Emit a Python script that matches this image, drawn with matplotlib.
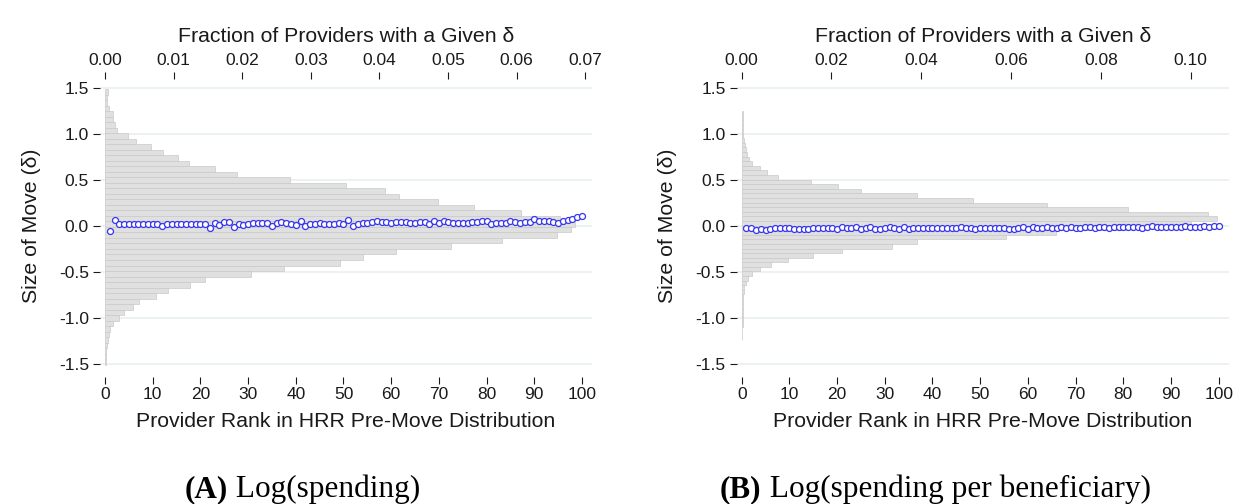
import numpy as np
import matplotlib
matplotlib.use("Agg")
import matplotlib.pyplot as plt

plt.rcParams['font.family'] = ['Liberation Sans', 'DejaVu Sans']

# ---- data ----
ranks = np.arange(1, 101)

# panel A: mean size of move by provider rank
move_a = [
    -0.05, 0.06, 0.018, 0.018, 0.018, 0.018, 0.018, 0.018, 0.018, 0.018,
    0.018, -0.004, 0.018, 0.018, 0.018, 0.018, 0.018, 0.018, 0.018, 0.025,
    0.025, -0.018, 0.032, 0.011, 0.04, 0.04, -0.011, 0.018, 0.011, 0.018,
    0.036, 0.029, 0.029, 0.036, 0.004, 0.029, 0.04, 0.029, 0.025, 0.011,
    0.054, 0.0, 0.022, 0.025, 0.033, 0.025, 0.022, 0.025, 0.029, 0.018,
    0.062, 0.004, 0.018, 0.029, 0.029, 0.047, 0.054, 0.047, 0.04, 0.029,
    0.047, 0.047, 0.04, 0.029, 0.029, 0.04, 0.047, 0.018, 0.054, 0.029,
    0.054, 0.04, 0.029, 0.029, 0.036, 0.029, 0.044, 0.047, 0.058, 0.051,
    0.022, 0.029, 0.036, 0.036, 0.054, 0.044, 0.036, 0.044, 0.047, 0.073,
    0.054, 0.051, 0.051, 0.044, 0.036, 0.058, 0.065, 0.073, 0.094, 0.113,
]

# panel B
move_b = [
    -0.02, -0.025, -0.04, -0.036, -0.04, -0.029, -0.025, -0.025, -0.025, -0.025,
    -0.029, -0.029, -0.029, -0.029, -0.022, -0.022, -0.025, -0.025, -0.025, -0.029,
    -0.007, -0.022, -0.022, -0.011, -0.029, -0.018, -0.015, -0.036, -0.029, -0.022,
    -0.007, -0.018, -0.029, -0.015, -0.029, -0.018, -0.022, -0.025, -0.025, -0.025,
    -0.025, -0.025, -0.025, -0.018, -0.025, -0.011, -0.022, -0.018, -0.036, -0.025,
    -0.018, -0.025, -0.022, -0.025, -0.025, -0.029, -0.029, -0.018, -0.015, -0.029,
    -0.007, -0.018, -0.022, -0.015, -0.018, -0.022, -0.011, -0.018, -0.015, -0.018,
    -0.022, -0.015, -0.011, -0.018, -0.015, -0.011, -0.018, -0.015, -0.011, -0.015,
    -0.007, -0.015, -0.011, -0.018, -0.011, -0.004, -0.011, -0.015, -0.007, -0.011,
    -0.007, -0.011, -0.004, -0.011, -0.007, -0.011, -0.004, -0.007, -0.004, 0.0,
]

# histogram of delta (fraction of providers), bins from bottom to top
bin_lo_a, bin_w_a = -1.51, 0.06
frac_a = [
    0.0002, 0.00015, 0.0002, 0.0003, 0.0005, 0.0006, 0.0007, 0.0012, 0.0020, 0.0028,
    0.0041, 0.0050, 0.0075, 0.0092, 0.0124, 0.0146, 0.0213, 0.0261, 0.0343, 0.0376,
    0.0424, 0.0504, 0.0579, 0.0659, 0.0679,
    0.0685, 0.0664, 0.0606, 0.0538, 0.0485, 0.0429, 0.0408, 0.0351, 0.0270, 0.0192,
    0.0161, 0.0122, 0.0107, 0.0084, 0.0067, 0.0045, 0.0033, 0.0017, 0.00146, 0.0012,
    0.0011, 0.00058, 0.00034, 0.00024, 0.00049,
]

bin_lo_b, bin_w_b = -1.245, 0.05
frac_b = [
    0.0001, 0.0001, 0.0001, 0.0002, 0.0002, 0.0002, 0.0002, 0.0002, 0.0003, 0.0003,
    0.0005, 0.0005, 0.0010, 0.0015, 0.0024, 0.0042, 0.0065, 0.0104, 0.0160, 0.0223,
    0.0336, 0.0390, 0.0588, 0.0700, 0.0860, 0.1000, 0.1060,
    0.1040, 0.0860, 0.0680, 0.0516, 0.0391, 0.0265, 0.0215, 0.0154, 0.0080, 0.0057,
    0.0040, 0.0024, 0.0016, 0.0012, 0.0010, 0.0007, 0.0005, 0.0004, 0.0004, 0.0003,
    0.0003, 0.0003, 0.0002,
]

yticks = [-1.5, -1.0, -0.5, 0.0, 0.5, 1.0, 1.5]
ytick_labels = ["-1.5", "-1.0", "-0.5", "0.0", "0.5", "1.0", "1.5"]
rank_ticks = np.arange(0, 101, 10)
frac_ticks_a = [0.00, 0.01, 0.02, 0.03, 0.04, 0.05, 0.06, 0.07]
frac_ticks_b = [0.00, 0.02, 0.04, 0.06, 0.08, 0.10]

W, H = 1242, 504
fig = plt.figure(figsize=(W / 100, H / 100), dpi=100)

GRID = "#e9f0f1"
BAR = "#e0e0e0"
EDGE = "#c9c9c9"
DOT = "#3535f0"
TXT = "#1a1a1a"
LBL = 15.3
TICK = 12.5
CAP = 22.5


def panel(left_px, frac, lo, bw, frac_lim, frac_ticks, move, cap_bold, cap, cap_x):
    ax_h = fig.add_axes([left_px / W, 131 / H, 492 / W, 294 / H])
    ax_s = ax_h.twiny()

    # histogram on the top (fraction) axis
    edges = lo + bw * np.arange(len(frac))
    ax_h.barh(edges, frac, height=bw, align="edge", color=BAR,
              edgecolor=EDGE, linewidth=0.5, zorder=2)
    ax_h.set_xlim(*frac_lim)
    ax_h.set_ylim(-1.6, 1.6)
    ax_h.set_yticks(yticks)
    ax_h.set_yticklabels(ytick_labels)
    ax_h.yaxis.grid(True, color=GRID, linewidth=1.2, zorder=0)
    ax_h.set_axisbelow(True)
    ax_h.xaxis.tick_top()
    ax_h.xaxis.set_label_position("top")
    ax_h.set_xticks(frac_ticks)
    ax_h.set_xticklabels([f"{t:.2f}" for t in frac_ticks])
    ax_h.set_xlabel("Fraction of Providers with a Given δ", fontsize=LBL,
                    color=TXT, labelpad=8)
    ax_h.set_ylabel("Size of Move (δ)", fontsize=LBL, color=TXT, labelpad=13)
    ax_h.tick_params(axis="both", labelsize=TICK, colors=TXT, length=5,
                     width=0.8, pad=3)
    for s in ax_h.spines.values():
        s.set_visible(False)

    # scatter on the bottom (rank) axis
    ax_s.plot(ranks, move, linestyle="none", marker="o", markersize=4.3,
              markerfacecolor="white", markeredgecolor=DOT,
              markeredgewidth=0.9, zorder=3)
    ax_s.set_xlim(-1.05, 102.1)
    ax_s.xaxis.tick_bottom()
    ax_s.xaxis.set_label_position("bottom")
    ax_s.set_xticks(rank_ticks)
    ax_s.set_xlabel("Provider Rank in HRR Pre-Move Distribution", fontsize=LBL,
                    color=TXT, labelpad=7)
    ax_s.tick_params(axis="x", labelsize=TICK, colors=TXT, length=5,
                     width=0.8, pad=2)
    for s in ax_s.spines.values():
        s.set_visible(False)
    ax_s.spines["bottom"].set_position(("outward", 3))

    # caption: bold label then regular text right after it
    t1 = fig.text(cap_x / W, 1 - 497 / H, cap_bold, fontsize=CAP,
                  fontweight="bold", family="Liberation Serif", ha="left",
                  va="baseline", color="black")
    fig.add_artist(plt.Annotation(" " + cap, xy=(1, 0), xycoords=t1,
                                  xytext=(0, 0), textcoords="offset points",
                                  fontsize=CAP, family="Liberation Serif",
                                  ha="left", va="bottom", color="black"))


panel(100, frac_a, bin_lo_a, bin_w_a, (-0.00073, 0.0710), frac_ticks_a,
      move_a, "(A)", "Log(spending)", 185)
panel(736.7, frac_b, bin_lo_b, bin_w_b, (-0.0011, 0.1085), frac_ticks_b,
      move_b, "(B)", "Log(spending per beneficiary)", 720)

fig.savefig("out.png", dpi=100)
